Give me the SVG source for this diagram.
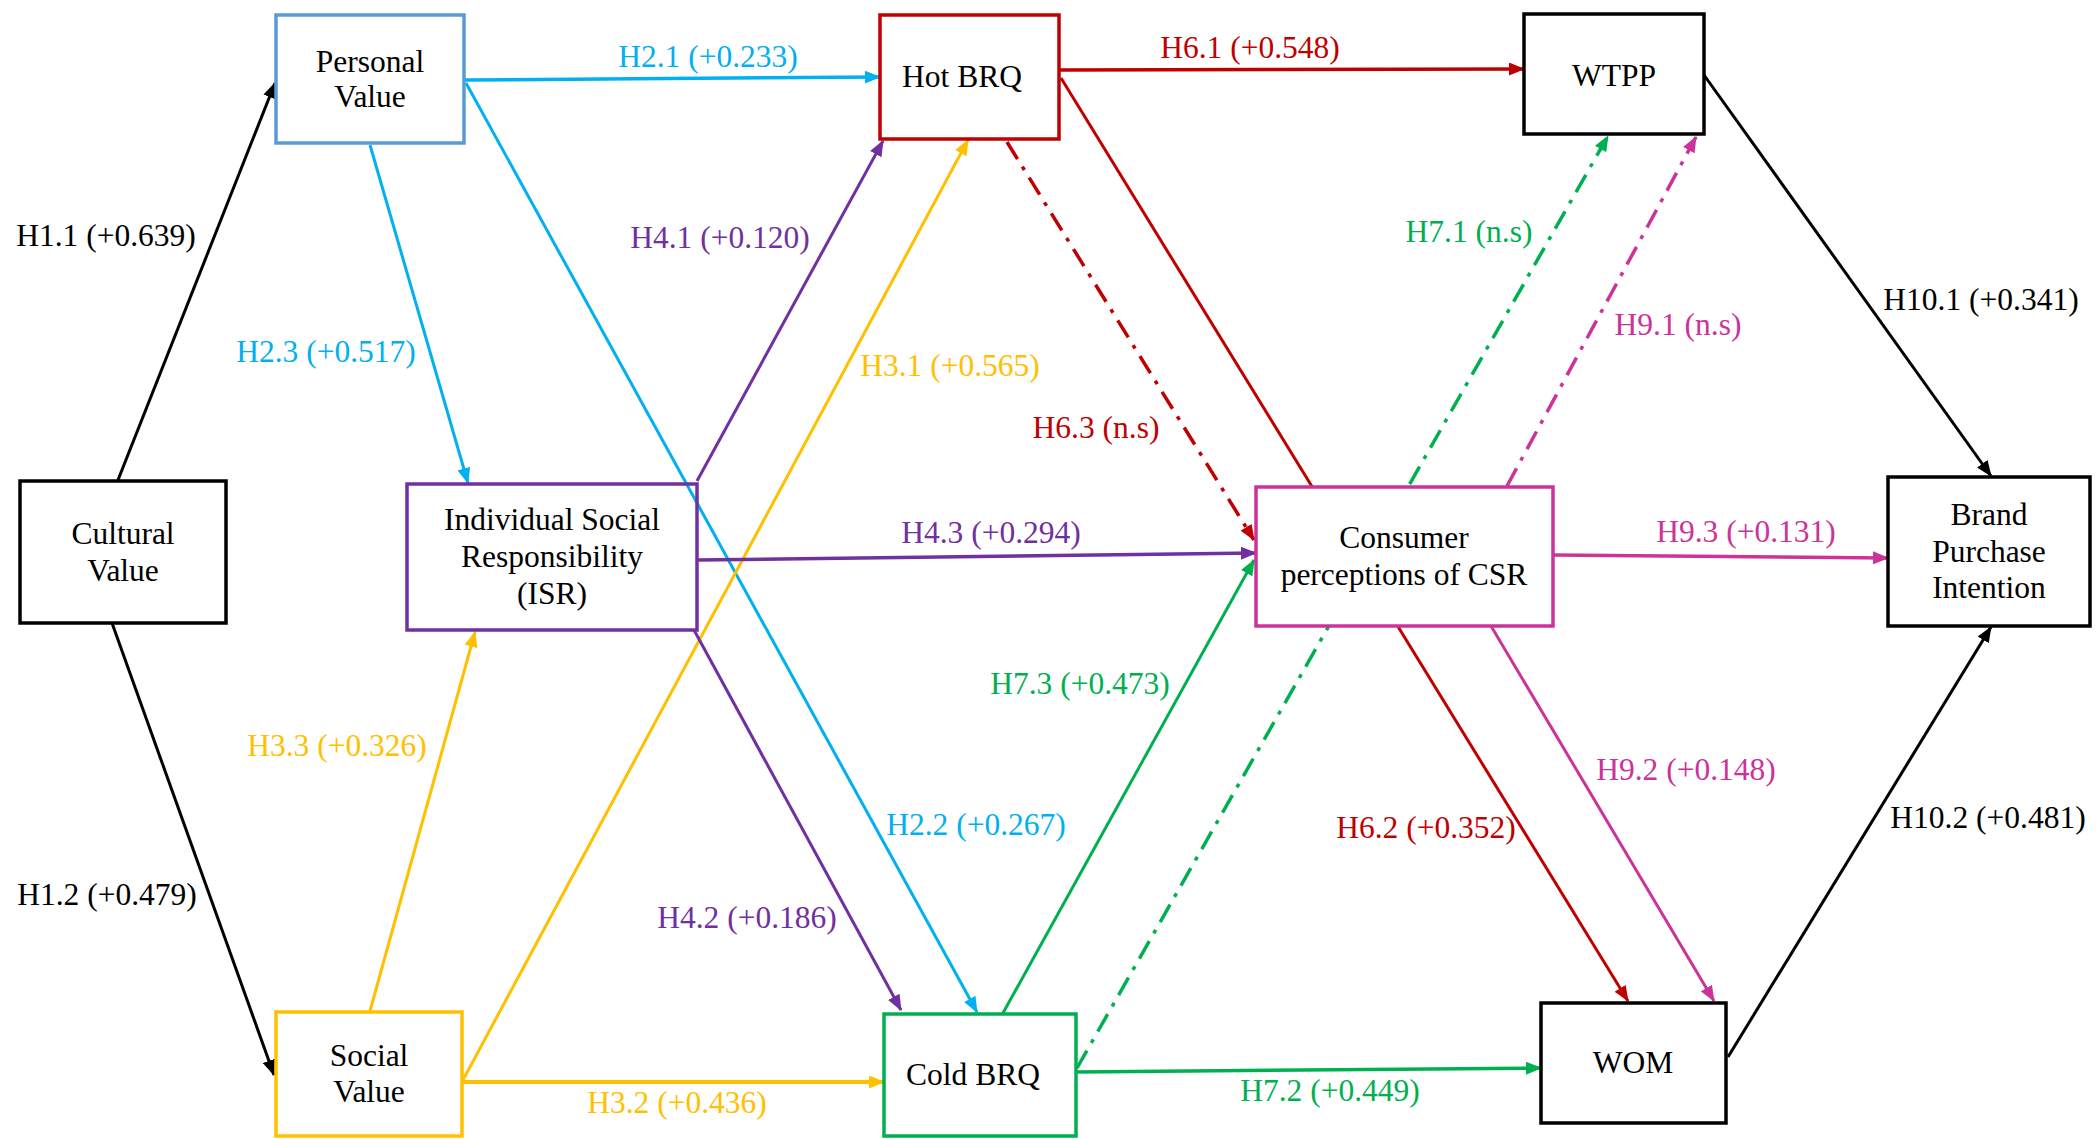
<svg xmlns="http://www.w3.org/2000/svg" width="2097" height="1139" viewBox="0 0 2097 1139">
<style>
text{font-family:"Liberation Serif","Times New Roman",serif;font-size:31.5px;text-anchor:middle}
.box{stroke-width:3.5}
.c{fill:none;stroke-width:3}
.dd{stroke-dasharray:20 9 4 9}
.k{stroke:#000}.kt{fill:#000}
.b{stroke:#00B0F0}.bt{fill:#00B0F0}
.y{stroke:#FFC000}.yt{fill:#FFC000}
.p{stroke:#7030A0}.pt{fill:#7030A0}
.r{stroke:#C00000}.rt{fill:#C00000}
.g{stroke:#00B050}.gt{fill:#00B050}
.m{stroke:#CC3399}.mt{fill:#CC3399}
</style>
<defs>
<marker id="ak" viewBox="0 0 16 13" markerWidth="16" markerHeight="13" refX="15" refY="6.5" orient="auto" markerUnits="userSpaceOnUse"><path d="M0,0 L16,6.5 L0,13 z" fill="#000"/></marker>
<marker id="ab" viewBox="0 0 16 13" markerWidth="16" markerHeight="13" refX="15" refY="6.5" orient="auto" markerUnits="userSpaceOnUse"><path d="M0,0 L16,6.5 L0,13 z" fill="#00B0F0"/></marker>
<marker id="ay" viewBox="0 0 16 13" markerWidth="16" markerHeight="13" refX="15" refY="6.5" orient="auto" markerUnits="userSpaceOnUse"><path d="M0,0 L16,6.5 L0,13 z" fill="#FFC000"/></marker>
<marker id="ap" viewBox="0 0 16 13" markerWidth="16" markerHeight="13" refX="15" refY="6.5" orient="auto" markerUnits="userSpaceOnUse"><path d="M0,0 L16,6.5 L0,13 z" fill="#7030A0"/></marker>
<marker id="ar" viewBox="0 0 16 13" markerWidth="16" markerHeight="13" refX="15" refY="6.5" orient="auto" markerUnits="userSpaceOnUse"><path d="M0,0 L16,6.5 L0,13 z" fill="#C00000"/></marker>
<marker id="ag" viewBox="0 0 16 13" markerWidth="16" markerHeight="13" refX="15" refY="6.5" orient="auto" markerUnits="userSpaceOnUse"><path d="M0,0 L16,6.5 L0,13 z" fill="#00B050"/></marker>
<marker id="am" viewBox="0 0 16 13" markerWidth="16" markerHeight="13" refX="15" refY="6.5" orient="auto" markerUnits="userSpaceOnUse"><path d="M0,0 L16,6.5 L0,13 z" fill="#CC3399"/></marker>
</defs>
<rect width="2097" height="1139" fill="#fff"/>
<g id="connectors">
<g id="e-h1-1"><line class="c k" x1="118" y1="480" x2="275" y2="83" marker-end="url(#ak)"/><text class="kt" x="106" y="246">H1.1 (+0.639)</text></g>
<g id="e-h1-2"><line class="c k" x1="112" y1="623" x2="274" y2="1075" marker-end="url(#ak)"/><text class="kt" x="107" y="905">H1.2 (+0.479)</text></g>
<g id="e-h2-1"><line class="c b" style="stroke-width:3.5" x1="464" y1="80" x2="880" y2="77" marker-end="url(#ab)"/><text class="bt" x="708" y="67">H2.1 (+0.233)</text></g>
<g id="e-h2-3"><line class="c b" x1="370" y1="145" x2="468" y2="483" marker-end="url(#ab)"/><text class="bt" x="326" y="362">H2.3 (+0.517)</text></g>
<g id="e-h2-2"><line class="c b" x1="466" y1="83" x2="977" y2="1012" marker-end="url(#ab)"/><text class="bt" x="976" y="835">H2.2 (+0.267)</text></g>
<g id="e-h3-3"><line class="c y" x1="370" y1="1011" x2="475" y2="632" marker-end="url(#ay)"/><text class="yt" x="337" y="756">H3.3 (+0.326)</text></g>
<g id="e-h3-1"><line class="c y" x1="463" y1="1080" x2="968" y2="140" marker-end="url(#ay)"/><text class="yt" x="950" y="376">H3.1 (+0.565)</text></g>
<g id="e-h3-2"><line class="c y" style="stroke-width:4" x1="463" y1="1082" x2="884" y2="1082" marker-end="url(#ay)"/><text class="yt" x="677" y="1113">H3.2 (+0.436)</text></g>
<g id="e-h4-1"><line class="c p" x1="697" y1="481" x2="883" y2="141" marker-end="url(#ap)"/><text class="pt" x="720" y="248">H4.1 (+0.120)</text></g>
<g id="e-h4-3"><line class="c p" style="stroke-width:3.5" x1="697" y1="560" x2="1256" y2="553" marker-end="url(#ap)"/><text class="pt" x="991" y="543">H4.3 (+0.294)</text></g>
<g id="e-h4-2"><line class="c p" x1="694" y1="630" x2="901" y2="1010" marker-end="url(#ap)"/><text class="pt" x="747" y="928">H4.2 (+0.186)</text></g>
<g id="e-h6-1"><line class="c r" style="stroke-width:3.5" x1="1059" y1="70" x2="1524" y2="69" marker-end="url(#ar)"/><text class="rt" x="1250" y="58">H6.1 (+0.548)</text></g>
<g id="e-h6-3"><line class="c r dd" style="stroke-width:3.5" x1="1007" y1="142" x2="1254" y2="540" marker-end="url(#ar)"/><text class="rt" x="1096" y="438">H6.3 (n.s)</text></g>
<g id="e-h6-2"><line class="c r" x1="1061" y1="78" x2="1628" y2="1001" marker-end="url(#ar)"/><text class="rt" x="1426" y="838">H6.2 (+0.352)</text></g>
<g id="e-h7-1"><line class="c g dd" style="stroke-width:3.5" x1="1077" y1="1068" x2="1608" y2="136" marker-end="url(#ag)"/><text class="gt" x="1469" y="242">H7.1 (n.s)</text></g>
<g id="e-h7-3"><line class="c g" x1="1003" y1="1013" x2="1254" y2="560" marker-end="url(#ag)"/><text class="gt" x="1080" y="694">H7.3 (+0.473)</text></g>
<g id="e-h7-2"><line class="c g" style="stroke-width:3.5" x1="1076" y1="1072" x2="1541" y2="1068" marker-end="url(#ag)"/><text class="gt" x="1330" y="1101">H7.2 (+0.449)</text></g>
<g id="e-h9-1"><line class="c m dd" style="stroke-width:3.5" x1="1507" y1="486" x2="1696" y2="137" marker-end="url(#am)"/><text class="mt" x="1678" y="335">H9.1 (n.s)</text></g>
<g id="e-h9-3"><line class="c m" style="stroke-width:3.5" x1="1553" y1="555" x2="1888" y2="558" marker-end="url(#am)"/><text class="mt" x="1746" y="542">H9.3 (+0.131)</text></g>
<g id="e-h9-2"><line class="c m" x1="1491" y1="626" x2="1714" y2="1001" marker-end="url(#am)"/><text class="mt" x="1686" y="780">H9.2 (+0.148)</text></g>
<g id="e-h10-1"><line class="c k" x1="1704" y1="75" x2="1991" y2="476" marker-end="url(#ak)"/><text class="kt" x="1981" y="310">H10.1 (+0.341)</text></g>
<g id="e-h10-2"><line class="c k" x1="1728" y1="1057" x2="1991" y2="627" marker-end="url(#ak)"/><text class="kt" x="1988" y="828">H10.2 (+0.481)</text></g>
</g>
<g id="n-cultural"><rect class="box" x="20" y="481" width="206" height="142" fill="#fff" stroke="#000"/><text x="123" y="544">Cultural</text><text x="123" y="581">Value</text></g>
<g id="n-personal"><rect class="box" x="276" y="15" width="188" height="128" fill="#fff" stroke="#5B9BD5"/><text x="370" y="72">Personal</text><text x="370" y="107">Value</text></g>
<g id="n-social"><rect class="box" x="276" y="1012" width="186" height="124" fill="#fff" stroke="#FFC000"/><text x="369" y="1066">Social</text><text x="369" y="1102">Value</text></g>
<g id="n-isr"><rect class="box" x="407" y="484" width="290" height="146" fill="none" stroke="#7030A0"/><text x="552" y="530">Individual Social</text><text x="552" y="567">Responsibility</text><text x="552" y="604">(ISR)</text></g>
<g id="n-hot"><rect class="box" x="880" y="15" width="179" height="124" fill="#fff" stroke="#C00000"/><text x="962" y="87">Hot BRQ</text></g>
<g id="n-cold"><rect class="box" x="884" y="1014" width="192" height="122" fill="#fff" stroke="#00B050"/><text x="973" y="1085">Cold BRQ</text></g>
<g id="n-csr"><rect class="box" x="1256" y="487" width="297" height="139" fill="#fff" stroke="#CC3399"/><text x="1404" y="548">Consumer</text><text x="1404" y="585">perceptions of CSR</text></g>
<g id="n-wtpp"><rect class="box" x="1524" y="14" width="180" height="120" fill="#fff" stroke="#000"/><text x="1614" y="86">WTPP</text></g>
<g id="n-wom"><rect class="box" x="1541" y="1003" width="185" height="120" fill="#fff" stroke="#000"/><text x="1633" y="1073">WOM</text></g>
<g id="n-bpi"><rect class="box" x="1888" y="477" width="202" height="149" fill="#fff" stroke="#000"/><text x="1989" y="525">Brand</text><text x="1989" y="562">Purchase</text><text x="1989" y="598">Intention</text></g>
</svg>
